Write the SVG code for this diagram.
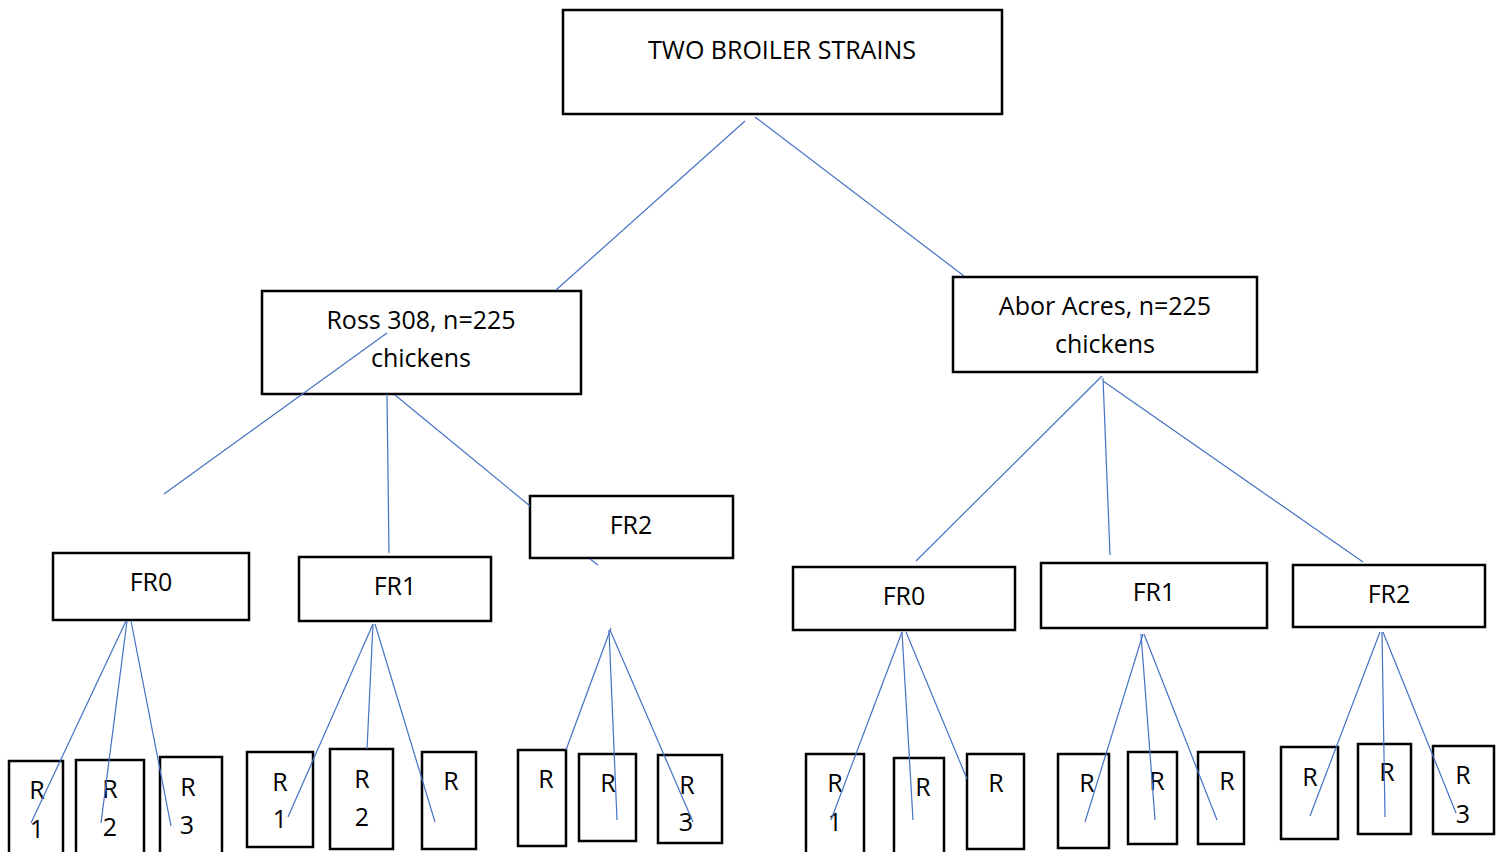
<svg xmlns="http://www.w3.org/2000/svg" width="1504" height="852" viewBox="0 0 1504 852">
<style>
rect{fill:#fff;stroke:#000;stroke-width:2.5}
text{font-family:"Open Sans","Liberation Sans",sans-serif;font-size:25px;fill:#000;text-anchor:middle}
.c line{stroke:#4472C4;stroke-width:1.2}
</style>
<rect x="0" y="0" width="1504" height="852" style="stroke:none"/>
<g id="root"><rect x="563" y="10" width="439" height="104"/><text x="782" y="59">TWO BROILER STRAINS</text></g>
<g id="ross"><rect x="262" y="291" width="319" height="103"/><text x="421" y="329">Ross 308, n=225</text><text x="421" y="367">chickens</text></g>
<g id="abor"><rect x="953" y="277" width="304" height="95"/><text x="1105" y="315">Abor Acres, n=225</text><text x="1105" y="353">chickens</text></g>
<g id="fr0a"><rect x="53" y="553" width="196" height="67"/><text x="151" y="591">FR0</text></g>
<g id="fr1a"><rect x="299" y="557" width="192" height="64"/><text x="395" y="595">FR1</text></g>
<g id="fr2a"><rect x="530" y="496" width="203" height="62"/><text x="631" y="534">FR2</text></g>
<g id="fr0b"><rect x="793" y="567" width="222" height="63"/><text x="904" y="605">FR0</text></g>
<g id="fr1b"><rect x="1041" y="563" width="226" height="65"/><text x="1154" y="601">FR1</text></g>
<g id="fr2b"><rect x="1293" y="565" width="192" height="62"/><text x="1389" y="603">FR2</text></g>
<g id="r1"><rect x="9" y="761" width="54" height="100"/><text x="37" y="799">R</text><text x="37" y="838">1</text></g>
<g id="r2"><rect x="76" y="760" width="68" height="100"/><text x="110" y="798">R</text><text x="110" y="836">2</text></g>
<g id="r3"><rect x="160" y="757" width="62" height="100"/><text x="188" y="796">R</text><text x="187" y="834">3</text></g>
<g id="r4"><rect x="247" y="752" width="66" height="95"/><text x="280" y="791">R</text><text x="280" y="828">1</text></g>
<g id="r5"><rect x="330" y="749" width="63" height="100"/><text x="362" y="788">R</text><text x="362" y="826">2</text></g>
<g id="r6"><rect x="422" y="752" width="54" height="97"/><text x="451" y="790">R</text></g>
<g id="r7"><rect x="518" y="750" width="48" height="96"/><text x="546" y="788">R</text></g>
<g id="r8"><rect x="579" y="754" width="57" height="87"/><text x="608" y="792">R</text></g>
<g id="r9"><rect x="658" y="755" width="64" height="88"/><text x="687" y="794">R</text><text x="686" y="831">3</text></g>
<g id="r10"><rect x="806" y="754" width="58" height="100"/><text x="835" y="792">R</text><text x="835" y="831">1</text></g>
<g id="r11"><rect x="894" y="758" width="50" height="100"/><text x="923" y="796">R</text></g>
<g id="r12"><rect x="967" y="754" width="57" height="95"/><text x="996" y="792">R</text></g>
<g id="r13"><rect x="1058" y="754" width="51" height="94"/><text x="1087" y="792">R</text></g>
<g id="r14"><rect x="1128" y="752" width="49" height="92"/><text x="1157" y="790">R</text></g>
<g id="r15"><rect x="1198" y="752" width="46" height="92"/><text x="1227" y="790">R</text></g>
<g id="r16"><rect x="1281" y="747" width="57" height="92"/><text x="1310" y="786">R</text></g>
<g id="r17"><rect x="1358" y="744" width="53" height="90"/><text x="1387" y="781">R</text></g>
<g id="r18"><rect x="1433" y="746" width="61" height="88"/><text x="1463" y="784">R</text><text x="1463" y="823">3</text></g>
<g class="c" id="connectors">
<line x1="745" y1="121" x2="556" y2="290"/>
<line x1="755" y1="117" x2="964" y2="276"/>
<line x1="387" y1="333" x2="164" y2="494"/>
<line x1="387" y1="394" x2="389" y2="553"/>
<line x1="395" y1="395" x2="530" y2="506"/>
<line x1="590" y1="559" x2="598" y2="565"/>
<line x1="1102" y1="376" x2="916" y2="561"/>
<line x1="1103" y1="378" x2="1110" y2="555"/>
<line x1="1103" y1="381" x2="1363" y2="562"/>
<line x1="126" y1="621" x2="31" y2="823"/>
<line x1="127" y1="621" x2="101" y2="823"/>
<line x1="131" y1="621" x2="171" y2="826"/>
<line x1="373" y1="624" x2="288" y2="817"/>
<line x1="373" y1="624" x2="367" y2="749"/>
<line x1="375" y1="624" x2="435" y2="822"/>
<line x1="611" y1="628" x2="566" y2="750"/>
<line x1="609" y1="630" x2="617" y2="820"/>
<line x1="610" y1="630" x2="693" y2="822"/>
<line x1="902" y1="632" x2="831" y2="820"/>
<line x1="902" y1="632" x2="913" y2="820"/>
<line x1="906" y1="632" x2="967" y2="779"/>
<line x1="1143" y1="634" x2="1085" y2="822"/>
<line x1="1141" y1="634" x2="1155" y2="820"/>
<line x1="1144" y1="634" x2="1217" y2="820"/>
<line x1="1380" y1="632" x2="1310" y2="816"/>
<line x1="1382" y1="632" x2="1385" y2="817"/>
<line x1="1383" y1="632" x2="1456" y2="813"/>
</g>
</svg>
